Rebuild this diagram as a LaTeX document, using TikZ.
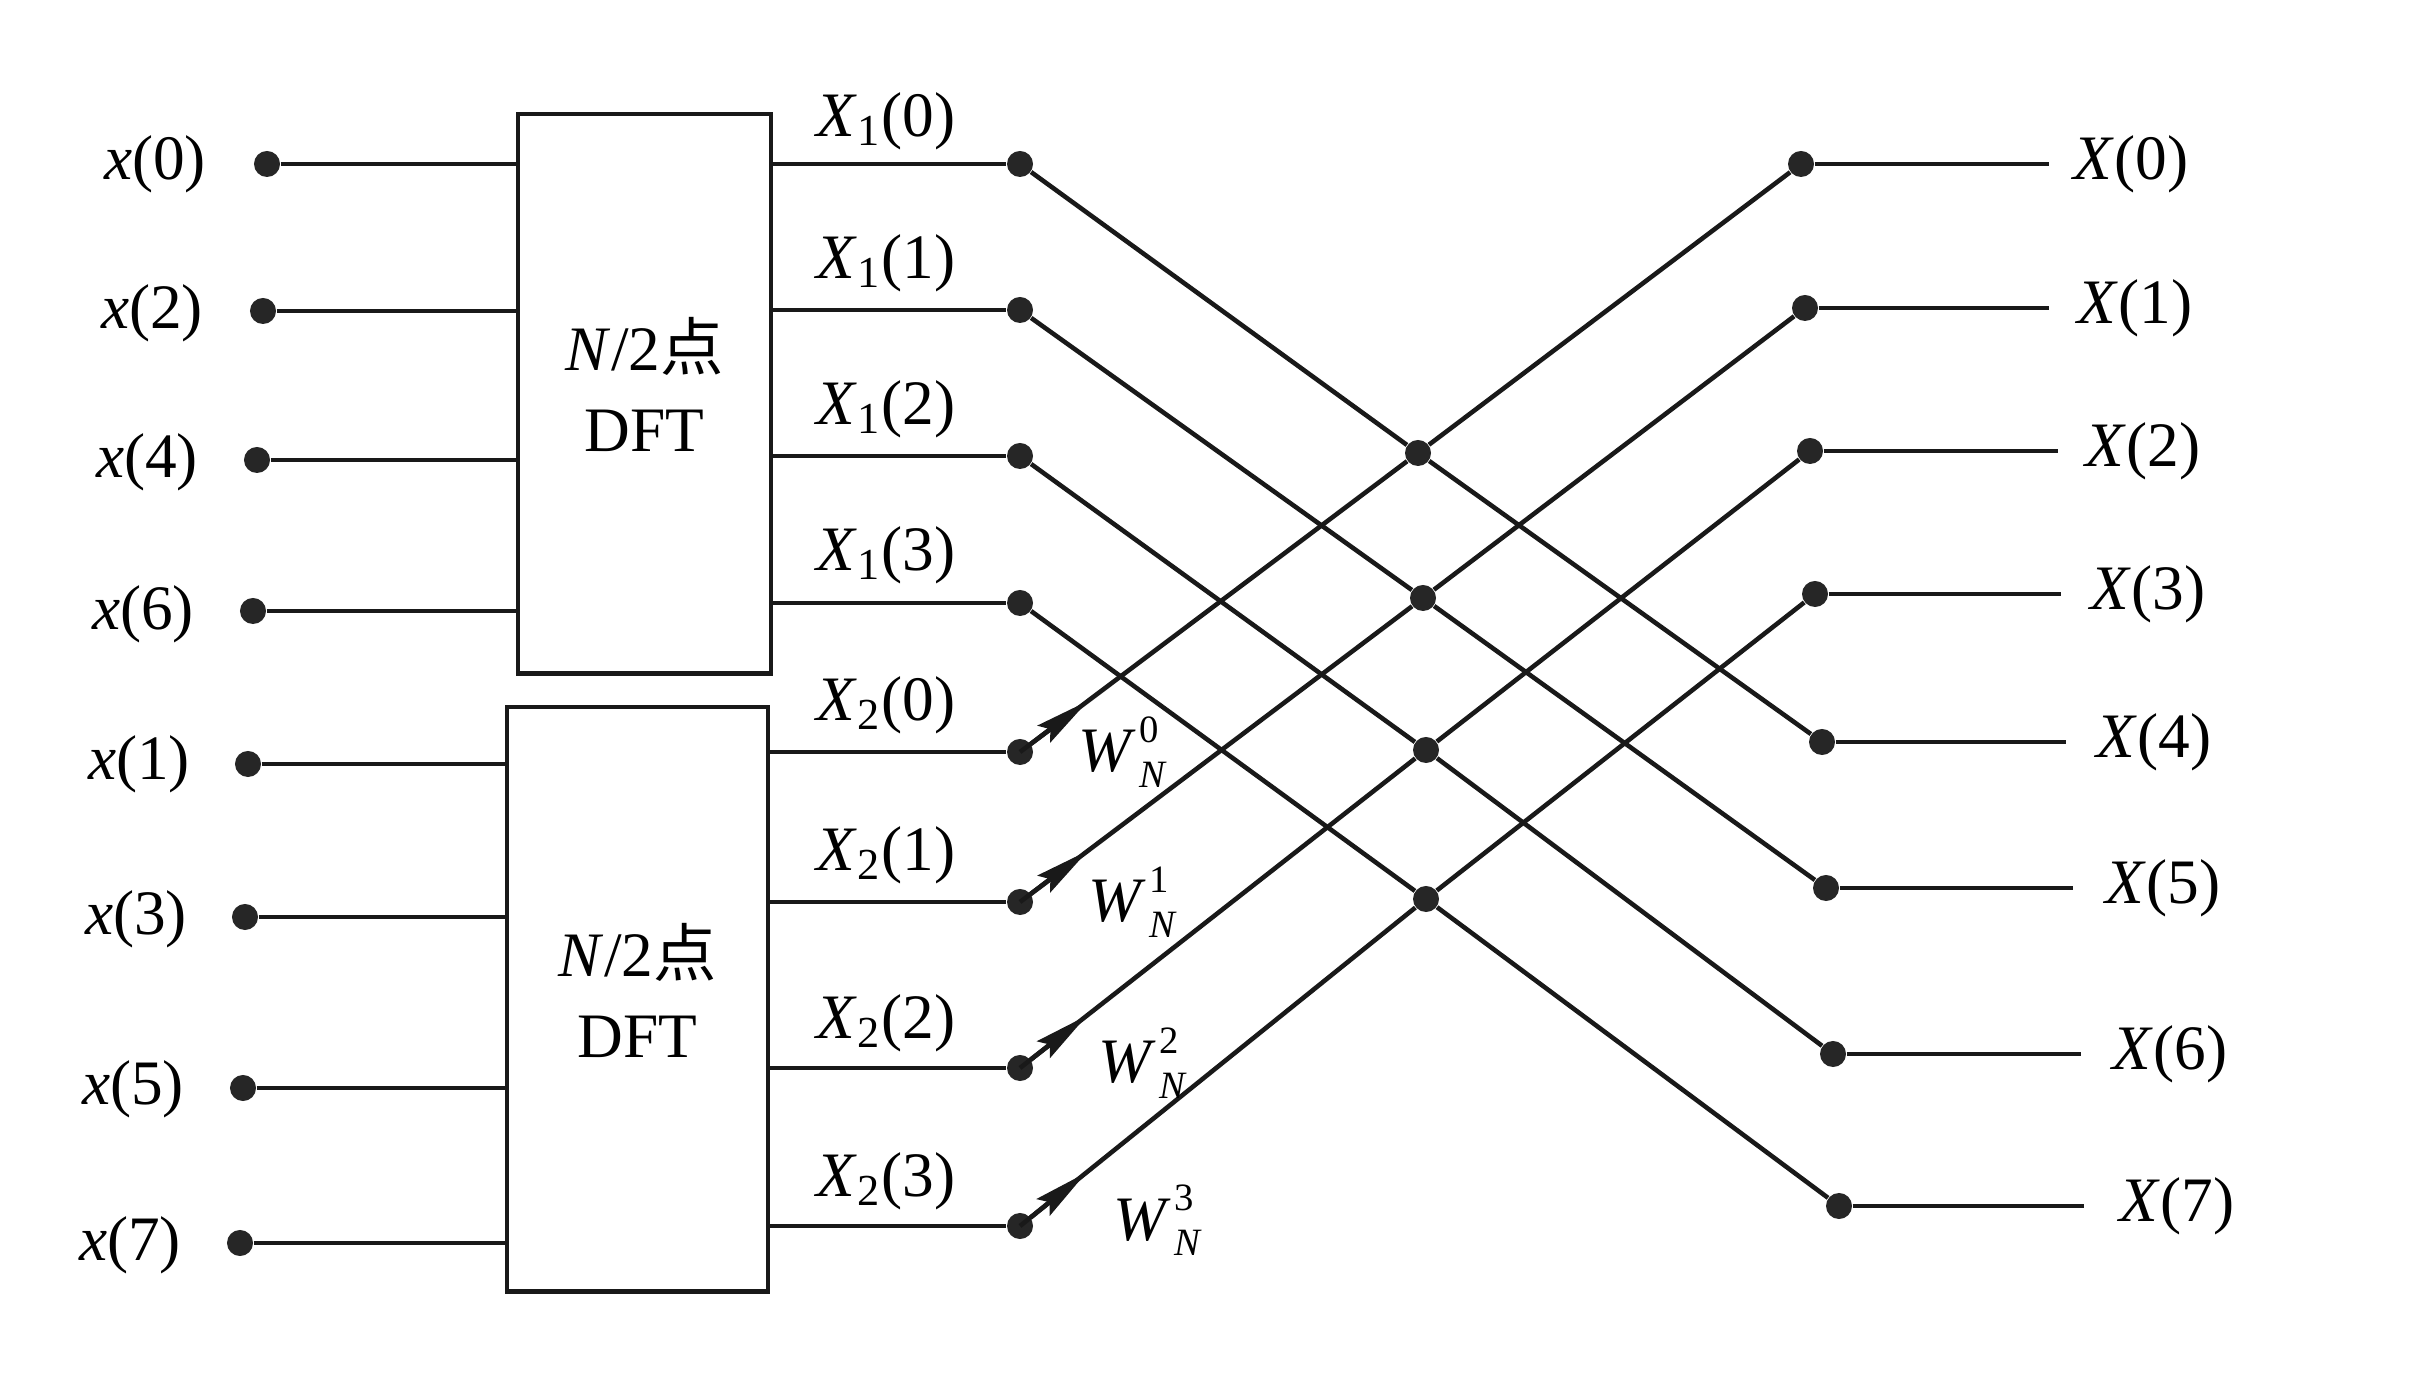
\documentclass[tikz,border=0pt]{standalone}
\usepackage{fontspec}
\setmainfont{Liberation Serif}
\newfontfamily\cjk{Noto Sans CJK SC}
\usetikzlibrary{calc,arrows.meta}
\tikzset{
  dot/.style={circle,fill=black!85,inner sep=0pt,minimum size=0.26cm},
  lbl/.style={font=\fontsize{18}{20}\selectfont,inner sep=0pt},
  wire/.style={line width=1.3pt,black!90},
  dftbox/.style={draw=black!90,line width=1.2pt,anchor=north west,inner sep=0pt},
  boxtext/.style={align=center,font=\fontsize{18}{23}\selectfont,inner sep=0pt},
  warrow/.style={line width=1.3pt,black!90,-{Stealth[length=0.55cm,width=0.21cm,inset=0.08cm]}},
  wlbl/.style={font=\fontsize{18}{20}\selectfont,inner sep=0pt,anchor=base west}
}
\newcommand{\twid}[1]{\textit{W}\kern1pt\makebox[0pt][l]{\raisebox{0.47em}{\fontsize{11}{11}\selectfont #1}}\raisebox{-0.25em}{\fontsize{11}{11}\selectfont\itshape N}}
\begin{document}
\begin{tikzpicture}[x=0.01cm,y=-0.01cm]
\useasboundingbox (0,0) rectangle (2430,1389);
% boxes
\node[dftbox,minimum width=2.53cm,minimum height=5.59cm] (box1) at (516,112) {};
\node[dftbox,minimum width=2.61cm,minimum height=5.84cm] (box2) at (505,705) {};
\node[boxtext] (bt1) at ($(box1.center)+(0,-9)$) {\textit{N}/2{\cjk 点}\\DFT};
\node[boxtext] (bt2) at ($(box2.center)+(0,-9)$) {\textit{N}/2{\cjk 点}\\DFT};
% inputs
\foreach \i/\dx/\dy/\lx/\ly/\t in {0/267/164/155/164/0, 1/263/311/152/313/2, 2/257/460/147/462/4, 3/253/611/143/614/6, 4/248/764/139/764/1, 5/245/917/136/919/3, 6/243/1088/133/1089/5, 7/240/1243/130/1245/7}{
  \node[dot] (in\i) at (\dx,\dy) {};
  \node[lbl] (inl\i) at (\lx,\ly) {\textit{x}(\t)};
}
\foreach \i in {0,1,2,3}{\draw[wire] (in\i) -- (in\i -| box1.west);}
\foreach \i in {4,5,6,7}{\draw[wire] (in\i) -- (in\i -| box2.west);}
% first stage outputs
\foreach \i/\dy/\ly in {0/164/121, 1/310/263, 2/456/409, 3/603/555}{
  \node[dot] (a\i) at (1020,\dy) {};
  \node[lbl] (al\i) at (886,\ly) {\textit{X}\textsubscript{1}(\i)};
  \draw[wire] (a\i -| box1.east) -- (a\i);
}
\foreach \i/\dy/\ly in {0/752/705, 1/902/855, 2/1068/1023, 3/1226/1181}{
  \node[dot] (b\i) at (1020,\dy) {};
  \node[lbl] (bl\i) at (886,\ly) {\textit{X}\textsubscript{2}(\i)};
  \draw[wire] (b\i -| box2.east) -- (b\i);
}
% crossing nodes
\foreach \i/\cx/\cy in {0/1418/453, 1/1423/598, 2/1426/750, 3/1426/899}{
  \node[dot] (c\i) at (\cx,\cy) {};
}
% right outputs
\foreach \i/\rx/\ry/\ex/\lx in {0/1801/164/2049/2131, 1/1805/308/2049/2135, 2/1810/451/2058/2143, 3/1815/594/2061/2148, 4/1822/742/2066/2154, 5/1826/888/2073/2163, 6/1833/1054/2081/2170, 7/1839/1206/2084/2177}{
  \node[dot] (r\i) at (\rx,\ry) {};
  \coordinate (e\i) at (\ex,\ry);
  \node[lbl] (rl\i) at (\lx,\ry) {\textit{X}(\i)};
  \draw[wire] (r\i) -- (e\i);
}
% butterflies
\foreach \i/\j in {0/4, 1/5, 2/6, 3/7}{
  \draw[wire] (a\i) -- (c\i) -- (r\j);
  \draw[wire] (b\i) -- (c\i) -- (r\i);
  \draw[warrow] (b\i.center) -- ($(b\i.center)!0.85cm!(c\i)$);
}
% twiddle labels
\node[wlbl] (w0) at (1078,772) {\twid{0}};
\node[wlbl] (w1) at (1088,922) {\twid{1}};
\node[wlbl] (w2) at (1098,1083) {\twid{2}};
\node[wlbl] (w3) at (1113,1240) {\twid{3}};
\end{tikzpicture}
\end{document}
